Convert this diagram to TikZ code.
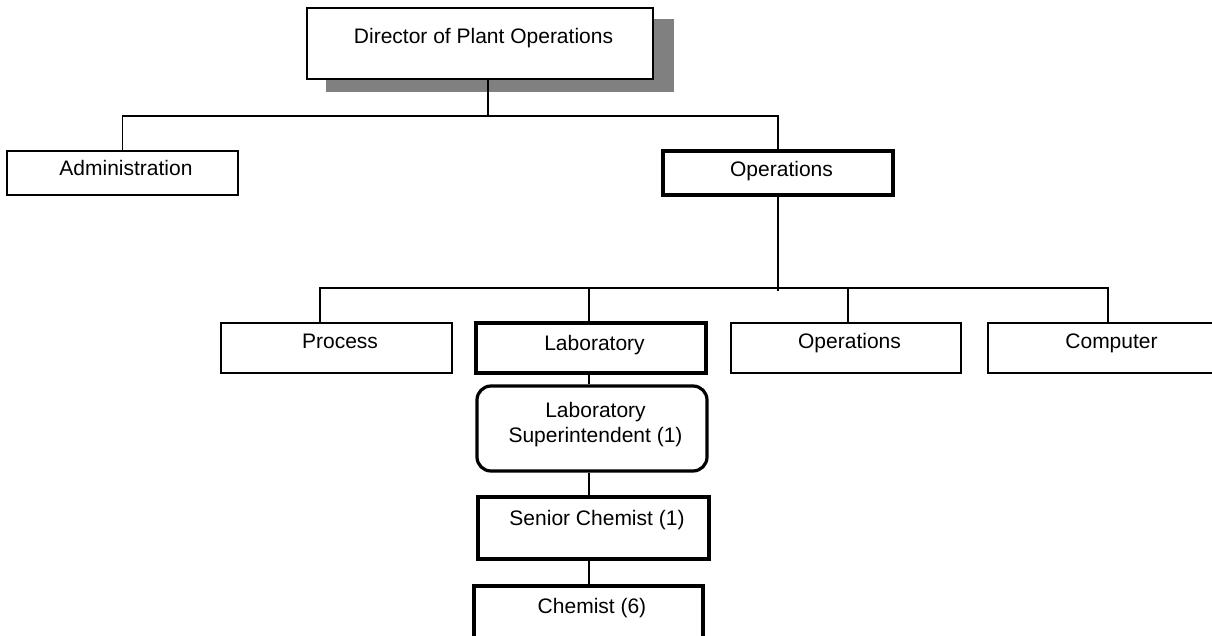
\documentclass[tikz,border=0pt]{standalone}
\usepackage{fontspec}
\setmainfont{Liberation Sans}
\usetikzlibrary{backgrounds}
\definecolor{shadowgray}{HTML}{808080}
\tikzset{
  orgbox/.style={draw, rectangle, fill=white, line width=1.4pt, inner xsep=0pt, inner ysep=0pt,
    font=\fontsize{21}{25.5}\selectfont, execute at begin node={\hspace*{7pt}}},
  boldbox/.style={orgbox, line width=3.2pt},
  conn/.style={line width=1.5pt},
}
\begin{document}
\begin{tikzpicture}[x=1pt,y=-1pt]
\useasboundingbox (0,0) rectangle (1212,636);
\clip (0,0) rectangle (1212,636);

% nodes
\node[orgbox, minimum width=346pt, text height=36pt, text depth=35pt] (dir) at (480,43.5) {Director of Plant Operations};
\node[orgbox, minimum width=231pt, text height=25pt, text depth=19pt] (adm) at (122.5,173) {Administration};
\node[boldbox, minimum width=230pt, text height=26pt, text depth=18pt] (ops) at (778,173) {Operations};

\node[orgbox, minimum width=231pt, text height=25pt, text depth=25pt] (proc) at (336.5,348) {Process};
\node[boldbox, minimum width=230pt, text height=27pt, text depth=23pt] (lab) at (591,348) {Laboratory};
\node[orgbox, minimum width=230pt, text height=25pt, text depth=25pt] (ops2) at (846,348) {Operations};
\node[orgbox, minimum width=240pt, text height=25pt, text depth=25pt] (comp) at (1108,348) {Computer};

\node[boldbox, rounded corners=14pt, minimum width=230pt, text height=31pt, text depth=54pt] (sup) at (592,428.5)
  {\begin{tabular}[t]{@{}c@{}}Laboratory\\Superintendent (1)\end{tabular}};
\node[boldbox, minimum width=231pt, text height=28pt, text depth=34pt] (sen) at (593.5,528) {Senior Chemist (1)};
\node[boldbox, minimum width=229pt, text height=27pt, text depth=47pt] (chem) at (588.5,623) {Chemist (6)};

% shadow of the director box
\begin{scope}[on background layer]
  \fill[shadowgray] ([shift={(20,12)}]dir.north west) rectangle ([shift={(20,12)}]dir.south east);
\end{scope}

% bus coordinates
\coordinate (tD) at (488,116);
\coordinate (tO) at (778,116);
\coordinate (bP) at (320,288);
\coordinate (bL) at (589,288);
\coordinate (bO) at (848,288);
\coordinate (bC) at (1108,288);
\coordinate (oEnd) at (778,291);

% connectors
\draw[conn] (dir.south -| tD) -- (tD);
\draw[conn] (adm.north) -- (adm.north |- tD) -- (tO) -- (ops.north);
\draw[conn] (ops.south) -- (oEnd);
\draw[conn] (bP |- proc.north) -- (bP) -- (bC) -- (bC |- comp.north);
\draw[conn] (bL) -- (bL |- lab.north);
\draw[conn] (bO) -- (bO |- ops2.north);
\draw[conn] (lab.south -| bL) -- (bL |- sup.north);
\draw[conn] (sup.south -| bL) -- (bL |- sen.north);
\draw[conn] (sen.south -| bL) -- (bL |- chem.north);
\end{tikzpicture}
\end{document}
